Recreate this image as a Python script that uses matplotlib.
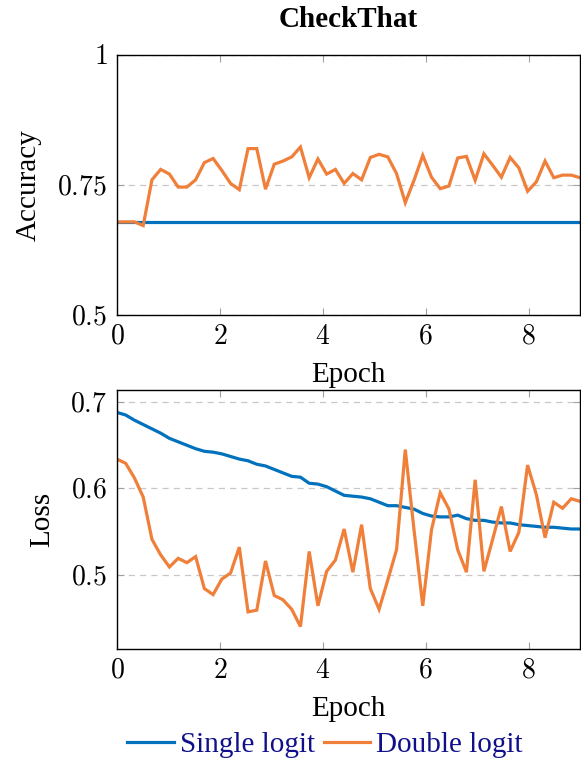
import matplotlib
matplotlib.use("Agg")
import matplotlib.pyplot as plt
import numpy as np

# 54 logged points spread over 9 epochs
steps = np.arange(54)
epochs = steps * 9 / 53

acc_single = [0.679] * 54
acc_double = [0.679, 0.679, 0.679, 0.672, 0.760, 0.780, 0.771, 0.746, 0.746, 0.760,
              0.793, 0.801, 0.778, 0.753, 0.741, 0.820, 0.820, 0.742, 0.790, 0.796,
              0.804, 0.823, 0.764, 0.800, 0.771, 0.780, 0.753, 0.772, 0.760, 0.803,
              0.809, 0.804, 0.772, 0.716, 0.759, 0.807, 0.765, 0.743, 0.748, 0.802,
              0.805, 0.759, 0.810, 0.788, 0.765, 0.803, 0.783, 0.738, 0.756, 0.796,
              0.764, 0.769, 0.769, 0.764]

loss_single = [0.688, 0.685, 0.679, 0.674, 0.669, 0.664, 0.658, 0.654, 0.650, 0.646,
               0.643, 0.642, 0.640, 0.637, 0.634, 0.632, 0.628, 0.626, 0.622, 0.618,
               0.614, 0.613, 0.606, 0.605, 0.602, 0.597, 0.592, 0.591, 0.590, 0.588,
               0.584, 0.580, 0.580, 0.578, 0.576, 0.571, 0.568, 0.567, 0.567, 0.569,
               0.565, 0.563, 0.563, 0.561, 0.560, 0.560, 0.558, 0.557, 0.556, 0.555,
               0.555, 0.554, 0.553, 0.553]
loss_double = [0.634, 0.629, 0.612, 0.590, 0.541, 0.523, 0.509, 0.519, 0.514, 0.521,
               0.484, 0.477, 0.495, 0.502, 0.532, 0.457, 0.459, 0.516, 0.476, 0.471,
               0.460, 0.440, 0.527, 0.464, 0.504, 0.517, 0.553, 0.503, 0.558, 0.484,
               0.460, 0.494, 0.529, 0.645, 0.552, 0.464, 0.552, 0.595, 0.576, 0.529,
               0.503, 0.610, 0.504, 0.541, 0.579, 0.527, 0.549, 0.627, 0.593, 0.543,
               0.584, 0.577, 0.588, 0.585]

BLUE = "#0072BD"
ORANGE = "#F07F3A"
SERIF = ["Liberation Serif", "DejaVu Serif"]
TICK_FS = 20
LABEL_FS = 21

plt.rcParams["mathtext.fontset"] = "cm"
plt.rcParams["font.family"] = SERIF

fig = plt.figure(figsize=(5.81, 7.65), dpi=100)
ax1 = fig.add_axes([117 / 581, 1 - 315 / 765, 463 / 581, 260 / 765])
ax2 = fig.add_axes([117 / 581, 1 - 649 / 765, 463 / 581, 259 / 765])


def style(ax, yticks, ylabels):
    ax.set_xlim(0, 9)
    ax.set_xticks([0, 2, 4, 6, 8])
    ax.set_xticklabels([f"${v}$" for v in [0, 2, 4, 6, 8]], fontsize=TICK_FS)
    ax.set_yticks(yticks)
    ax.set_yticklabels([f"${v}$" for v in ylabels], fontsize=TICK_FS)
    ax.tick_params(direction="in", length=5, width=0.8, color="#a0a0a0",
                   top=True, right=True, pad=7)
    ax.yaxis.grid(True, ls=(0, (5, 4)), color="#c8c8c8", lw=0.9)
    ax.set_axisbelow(True)
    for s in ax.spines.values():
        s.set_linewidth(1.0)
    ax.set_xlabel("Epoch", fontsize=LABEL_FS, labelpad=9)


kw = dict(lw=2.3, solid_joinstyle="miter")

ax1.plot(epochs, acc_single, color=BLUE, **kw)
ax1.plot(epochs, acc_double, color=ORANGE, **kw)
ax1.set_ylim(0.5, 1)
style(ax1, [0.5, 0.75, 1], ["0.5", "0.75", "1"])
ax1.set_ylabel("Accuracy", fontsize=LABEL_FS, labelpad=11)
ax1.set_title("CheckThat", fontsize=21, weight="bold", pad=20)

l1, = ax2.plot(epochs, loss_single, color=BLUE, **kw)
l2, = ax2.plot(epochs, loss_double, color=ORANGE, **kw)
ax2.set_ylim(0.414, 0.714)
style(ax2, [0.5, 0.6, 0.7], ["0.5", "0.6", "0.7"])
ax2.set_ylabel("Loss", fontsize=LABEL_FS, labelpad=11)

fig.legend([l1, l2], ["Single logit", "Double logit"], loc="center",
           bbox_to_anchor=(325 / 581, 1 - 745 / 765), ncol=2, frameon=False,
           fontsize=LABEL_FS, handlelength=1.6, handletextpad=0.2, columnspacing=0.3,
           labelcolor="#10108a")

fig.savefig("out.png", dpi=100)
